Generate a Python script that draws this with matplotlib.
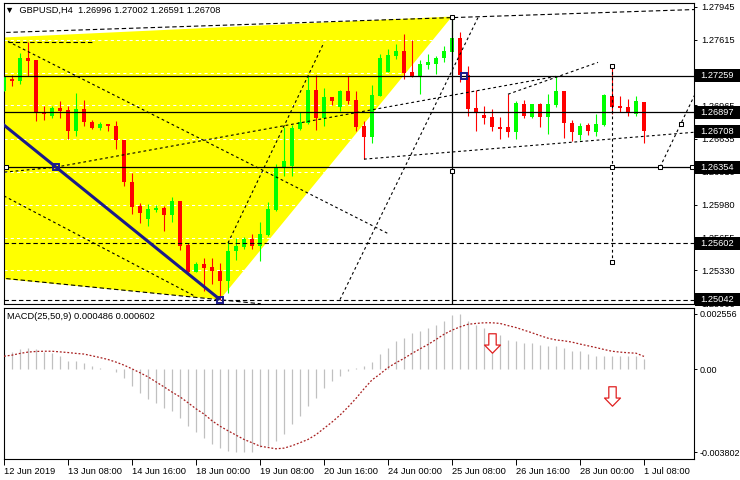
import matplotlib
matplotlib.use("Agg")
import matplotlib.pyplot as plt
import numpy as np
from matplotlib.path import Path
from matplotlib.patches import Polygon, Rectangle
from matplotlib.transforms import IdentityTransform

plt.rcParams['font.family'] = ['Liberation Sans', 'DejaVu Sans']

# ---- GBPUSD H4 candles (bar index 0 = 12 Jun 2019 00:00) ----
opens = [1.27105, 1.27224, 1.27204, 1.27431, 1.27412, 1.26898, 1.26858, 1.26937, 1.26918, 1.26710,
         1.26927, 1.26799, 1.26740, 1.26779, 1.26759, 1.26621, 1.26206, 1.25969, 1.25841, 1.25930,
         1.25949, 1.25880, 1.26018, 1.25584, 1.25317, 1.25396, 1.25366, 1.25327, 1.25228, 1.25524,
         1.25564, 1.25643, 1.25574, 1.25682, 1.25930, 1.26344, 1.26364, 1.26730, 1.26789, 1.27115,
         1.26839, 1.27046, 1.26947, 1.27105, 1.27016, 1.26759, 1.26651, 1.27056, 1.27293, 1.27451,
         1.27500, 1.27293, 1.27253, 1.27362, 1.27372, 1.27431, 1.27491, 1.27629, 1.27263, 1.26937,
         1.26868, 1.26848, 1.26750, 1.26750, 1.26700, 1.26977, 1.26848, 1.26977, 1.26848, 1.26967,
         1.27105, 1.26789, 1.26671, 1.26769, 1.26700, 1.26769, 1.27056, 1.26957, 1.26947, 1.26878,
         1.26996]
highs = [1.27253, 1.27263, 1.27481, 1.27589, 1.27412, 1.26957, 1.26957, 1.27006, 1.26957, 1.27086,
         1.27016, 1.26819, 1.26799, 1.26779, 1.26809, 1.26621, 1.26295, 1.25999, 1.25989, 1.25979,
         1.25969, 1.26058, 1.26018, 1.25604, 1.25416, 1.25455, 1.25455, 1.25406, 1.25623, 1.25653,
         1.25663, 1.25692, 1.25811, 1.26009, 1.26384, 1.26749, 1.26769, 1.26898, 1.27253, 1.27263,
         1.27135, 1.27046, 1.27115, 1.27253, 1.27105, 1.26809, 1.27164, 1.27471, 1.27520, 1.27570,
         1.27668, 1.27609, 1.27412, 1.27471, 1.27451, 1.27550, 1.27846, 1.27688, 1.27352, 1.27115,
         1.26957, 1.26927, 1.26848, 1.27076, 1.27006, 1.27016, 1.26977, 1.26987, 1.27076, 1.27253,
         1.27105, 1.26819, 1.26789, 1.26789, 1.26878, 1.27076, 1.27352, 1.27056, 1.27026, 1.27056,
         1.27002]
lows = [1.27105, 1.27155, 1.27174, 1.27253, 1.26809, 1.26819, 1.26839, 1.26839, 1.26631, 1.26661,
        1.26759, 1.26730, 1.26720, 1.26710, 1.26532, 1.26167, 1.25890, 1.25801, 1.25771, 1.25910,
        1.25722, 1.25811, 1.25534, 1.25307, 1.25317, 1.25129, 1.25198, 1.25042, 1.25110, 1.25436,
        1.25544, 1.25544, 1.25426, 1.25673, 1.25920, 1.26266, 1.26266, 1.26720, 1.26779, 1.26720,
        1.26759, 1.26967, 1.26908, 1.26977, 1.26710, 1.26433, 1.26592, 1.27056, 1.27293, 1.27421,
        1.27224, 1.27244, 1.27076, 1.27323, 1.27273, 1.27392, 1.27402, 1.27194, 1.26858, 1.26710,
        1.26779, 1.26710, 1.26631, 1.26651, 1.26631, 1.26839, 1.26839, 1.26750, 1.26680, 1.26947,
        1.26641, 1.26611, 1.26621, 1.26671, 1.26661, 1.26759, 1.26878, 1.26898, 1.26858, 1.26858,
        1.26591]
closes = [1.27253, 1.27204, 1.27431, 1.27402, 1.26898, 1.26878, 1.26937, 1.26908, 1.26710, 1.26927,
          1.26799, 1.26740, 1.26779, 1.26759, 1.26621, 1.26206, 1.25959, 1.25900, 1.25939, 1.25949,
          1.25880, 1.26018, 1.25574, 1.25317, 1.25396, 1.25357, 1.25327, 1.25228, 1.25524, 1.25574,
          1.25643, 1.25574, 1.25692, 1.25939, 1.26344, 1.26414, 1.26740, 1.26799, 1.27115, 1.26839,
          1.27046, 1.27006, 1.27105, 1.27006, 1.26750, 1.26651, 1.27066, 1.27431, 1.27461, 1.27500,
          1.27283, 1.27253, 1.27372, 1.27392, 1.27431, 1.27500, 1.27629, 1.27263, 1.26927, 1.26888,
          1.26839, 1.26750, 1.26730, 1.26700, 1.26987, 1.26858, 1.26977, 1.26848, 1.26977, 1.27105,
          1.26789, 1.26700, 1.26759, 1.26710, 1.26779, 1.27066, 1.26947, 1.26937, 1.26888, 1.27006,
          1.26708]

# MACD(25,50,9): main (histogram) and signal, in units of 1e-4
macd_main = [7.4, 8.1, 9.2, 10.1, 9.2, 8.1, 7.4, 6.0, 4.1, 3.7, 2.8, 1.4, 0.8, 0.1, -1.2, -3.7,
             -7.4, -10.6, -13.8, -15.6, -17.9, -19.3, -22.5, -26.2, -29.0, -31.7, -34.5, -36.3,
             -37.3, -37.8, -38.02, -37.8, -35.9, -35.4, -32.7, -29.9, -25.3, -21.6, -16.6, -12.9,
             -8.7, -5.5, -2.8, -0.5, 0.9, 1.4, 3.4, 6.9, 10.1, 12.9, 14.7, 16.6, 17.9, 19.3, 20.7,
             22.5, 25.2, 25.56, 22.5, 20.7, 19.3, 17.0, 16.1, 13.8, 13.3, 12.4, 12.4, 11.5, 11.0,
             11.0, 10.1, 8.7, 8.3, 6.9, 6.0, 6.0, 6.0, 6.0, 6.0, 6.0, 4.86]
macd_signal = [6.1, 6.6, 7.4, 8.0, 8.3, 8.4, 8.4, 8.1, 7.8, 7.4, 7.1, 6.3, 5.5, 4.6, 3.4, 2.0, 0.3,
               -1.5, -3.4, -5.7, -8.0, -10.4, -12.6, -15.3, -18.1, -20.5, -23.6, -26.1, -28.2,
               -30.2, -32.2, -33.7, -35.3, -35.9, -36.5, -36.2, -35.1, -33.7, -32.2, -30.0, -27.1,
               -24.2, -21.0, -17.3, -13.3, -8.9, -4.8, -2.1, 0.9, 3.1, 5.1, 7.4, 9.5, 11.5, 13.8,
               16.2, 18.1, 19.6, 20.8, 21.2, 21.5, 21.5, 21.2, 20.2, 19.3, 18.1, 16.9, 15.6, 14.4,
               13.6, 13.2, 12.6, 11.7, 10.9, 10.1, 9.2, 8.4, 8.0, 7.7, 7.5, 6.02]

date_labels = ['12 Jun 2019', '13 Jun 08:00', '14 Jun 16:00', '18 Jun 00:00', '19 Jun 08:00',
               '20 Jun 16:00', '24 Jun 00:00', '25 Jun 08:00', '26 Jun 16:00', '28 Jun 00:00',
               '1 Jul 08:00']
grid_levels = [1.27945, 1.27615, 1.27285, 1.26965, 1.26635, 1.26310, 1.25980, 1.25655, 1.25330, 1.25000]
price_ticks = [1.27945, 1.27615, 1.26965, 1.26635, 1.26310, 1.25980, 1.25655, 1.25330, 1.25000]
solid_levels = [1.27259, 1.26897, 1.26354]
dashed_levels = [1.25602, 1.25042]
boxed_prices = [1.27259, 1.26897, 1.26708, 1.26354, 1.25602, 1.25042]
macd_ticks = [0.002556, 0.0, -0.003802]
macd_tick_labels = ['0.002556', '0.00', '-0.003802']

# drawing objects, as (bar index, price) anchor points
triangle = [(-213.4, 1.26848), (56, 1.27846), (27, 1.25042)]
dash_lines = [
    [(-1, 1.27685), (87, 1.27917)],     # upper trend line
    [(0.5, 1.27589), (11.1, 1.27589)],  # short horizontal
    [(-1, 1.25260), (32.1, 1.25000)],   # lower edge
]
dot_lines = [
    [(0.5, 1.27599), (48.1, 1.25692)],
    [(-1, 1.26110), (23.75, 1.25080)],
    [(-1, 1.26296), (6.5, 1.26354)],
    [(6.5, 1.26354), (69, 1.27253)],
    [(28, 1.25602), (40, 1.27589)],
    [(42, 1.25042), (59.25, 1.27836)],
    [(45, 1.26433), (87, 1.26704)],
    [(63, 1.27076), (74.25, 1.27392)],
    [(82, 1.26354), (87, 1.27179)],
    [(76, 1.27352), (76, 1.25416)],
]
blue_line = [(-1, 1.26834), (27, 1.25042)]
blue_marks = [(6.5, 1.26354), (27, 1.25042), (57.5, 1.27253)]
anchor_marks = [(56, 1.27846), (56, 1.26320), (76, 1.27352), (76, 1.26354), (76, 1.25416),
                (82, 1.26354), (84.6, 1.26783), (0.3, 1.26354), (86.0, 1.26354)]
arrows = [(61, 0.00124), (76, -0.00120)]

# ---- figure ----
W, H = 740, 480
fig = plt.figure(figsize=(W / 100, H / 100), dpi=100)
ax = fig.add_axes([4 / W, (H - 304) / H, 690 / W, 301 / H])
ax2 = fig.add_axes([4 / W, (H - 459) / H, 690 / W, 151 / H])

idx = np.arange(len(opens))
o = np.array(opens); c = np.array(closes)
hi = np.array(highs); lo = np.array(lows)
up = c >= o
col = np.where(up, '#00ff00', '#ff0000')

ax.set_xlim(0.0, 86.25)
ax.set_ylim(1.24998, 1.27980)

# yellow triangle
ax.add_patch(Polygon(triangle, closed=True, facecolor='#ffff00', edgecolor='none', zorder=0.5))

# grid (only shows on the yellow fill)
for t in grid_levels:
    ax.axhline(t, color='white', lw=0.75, ls=(0, (3, 3)), zorder=0.8)

# candles
ax.vlines(idx, lo, hi, colors=col, lw=0.8, zorder=3)
body_lo = np.minimum(o, c)
body_h = np.maximum(np.abs(c - o), 0.0001)
ax.bar(idx, body_h, bottom=body_lo, width=0.62, color=col, linewidth=0, zorder=3)

# levels
for lv in solid_levels:
    ax.axhline(lv, color='black', lw=0.9, zorder=4)
for lv in dashed_levels:
    ax.axhline(lv, color='black', lw=0.8, ls=(0, (4, 2.5)), zorder=4)

for seg in dash_lines:
    xs, ys = zip(*seg)
    ax.plot(xs, ys, color='black', lw=0.8, ls=(0, (4, 2.5)), zorder=4)
for seg in dot_lines:
    xs, ys = zip(*seg)
    ax.plot(xs, ys, color='black', lw=0.8, ls=(0, (2.5, 2.5)), zorder=4)

# vertical solid line from the top vertex
ax.plot([56, 56], [1.27846, 1.2490], color='black', lw=0.9, zorder=4)

xs, ys = zip(*blue_line)
ax.plot(xs, ys, color='#1a1a8a', lw=2.2, zorder=5, solid_capstyle='butt')
bx, by = zip(*blue_marks)
ax.plot(bx, by, 's', ms=4.5, mfc='none', mec='#1a1a8a', mew=1.4, zorder=6)
mx, my = zip(*anchor_marks)
ax.plot(mx, my, 's', ms=3.5, mfc='white', mec='black', mew=0.75, zorder=6)

ax.set_xticks([])
ax.yaxis.tick_right()
ax.set_yticks(price_ticks)
ax.set_yticklabels(['%.5f' % t for t in price_ticks])
ax.tick_params(axis='y', direction='out', length=2.5, width=0.7, pad=2.5, labelsize=6.7)
for sp in ax.spines.values():
    sp.set_linewidth(0.8)

ax.annotate('\u25bc  GBPUSD,H4  1.26996 1.27002 1.26591 1.26708', xy=(0, 1), xycoords='axes fraction',
            xytext=(1, -3), textcoords='offset pixels', va='top', ha='left', fontsize=6.7, zorder=10)

# boxed price labels on the right
for p in boxed_prices:
    yd = ax.transData.transform((0, p))[1]
    fig.add_artist(Rectangle((695, yd - 6.5), 46, 13, transform=IdentityTransform(),
                             facecolor='black', edgecolor='none', zorder=20))
    fig.text(700, yd, '%.5f' % p, color='white', fontsize=6.7, va='center', ha='left',
             transform=IdentityTransform(), zorder=21)

# ---- MACD panel ----
m = np.array(macd_main) * 1e-4
s = np.array(macd_signal) * 1e-4
ax2.set_xlim(0.0, 86.25)
ax2.set_ylim(-0.00412, 0.00283)
ax2.vlines(idx, 0, m, colors='#c0c0c0', lw=0.9, zorder=2)
ax2.plot(idx, s, color='#a82020', lw=0.9, ls=(0, (1.5, 1.5)), zorder=3)

arrow_path = Path([(-0.19, 0.5), (0.19, 0.5), (0.19, -0.08), (0.41, -0.08), (0.0, -0.5),
                   (-0.41, -0.08), (-0.19, -0.08), (-0.19, 0.5)], closed=True)
for ax_x, ax_y in arrows:
    ax2.plot([ax_x], [ax_y], marker=arrow_path, ms=14, mfc='white', mec='#e02020', mew=0.9, zorder=5)

ax2.yaxis.tick_right()
ax2.set_yticks(macd_ticks)
ax2.set_yticklabels(macd_tick_labels)
ax2.set_xticks(np.arange(0, 81, 8))
ax2.set_xticklabels(date_labels, ha='left')
ax2.tick_params(axis='y', direction='out', length=2.5, width=0.7, pad=1.5, labelsize=6.5)
ax2.tick_params(axis='x', direction='out', length=4, width=0.7, pad=1.5, labelsize=6.7)
for sp in ax2.spines.values():
    sp.set_linewidth(0.8)
ax2.annotate('MACD(25,50,9) 0.000486 0.000602', xy=(0, 1), xycoords='axes fraction',
             xytext=(3, -4), textcoords='offset pixels', va='top', ha='left', fontsize=6.7)

fig.savefig('out.png', dpi=100)
